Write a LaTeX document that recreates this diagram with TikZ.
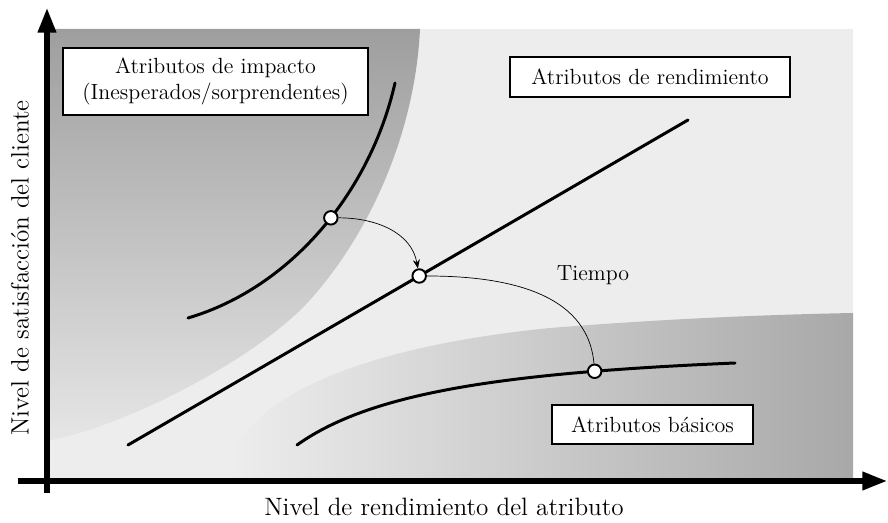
\documentclass[tikz,border=0pt]{standalone}
\usepackage{tikz}
\usepackage{amsmath,amssymb}
\usetikzlibrary{arrows.meta}
\usetikzlibrary{positioning}
\usetikzlibrary{calc}

\tikzset{
  attrbox/.style={draw,fill=white,line width=1pt,inner sep=0pt,align=center,font=\fontsize{12.5}{15}\selectfont},
  punto/.style={circle,draw,fill=white,line width=1.1pt,minimum size=0.27cm,inner sep=0pt},
  curva/.style={line width=1.7pt,line cap=round},
  eje/.style={line width=2.9pt,-{Triangle[length=14pt,width=10pt]}},
  ejelabel/.style={draw=none,font=\fontsize{14.3}{17}\selectfont}
}

\begin{document}
\begin{tikzpicture}[x=0.02cm,y=0.02cm]
    \useasboundingbox (0,0) rectangle (888,523);
    % zonas de fondo
    \fill[black!7] (50,45) rectangle (853,494);
    \shade[top color=black!38,bottom color=black!10]
      (50,494) -- (420,494)
      .. controls (415,390) and (370,290) .. (310,223)
      .. controls (255,162) and (120,95) .. (50,83)
      -- cycle;
    \shade[left color=black!7,right color=black!34]
      (228,45) .. controls (232,120) and (350,175) .. (550,195)
      .. controls (650,203) and (750,208) .. (853,210)
      -- (853,45) -- cycle;
    % ejes
    \coordinate (ytop) at (47,515);
    \coordinate (ybot) at (47,30);
    \coordinate (xleft) at (18,42);
    \coordinate (xright) at (887,42);
    \draw[eje] (ybot)--(ytop);
    \draw[eje] (xleft)--(xright);
    \node[ejelabel,rotate=90] (ylab) at (20,255) {Nivel de satisfacci\'on del cliente};
    \node[ejelabel] (xlab) at (444,16) {Nivel de rendimiento del atributo};
    % curvas con sus puntos
    \draw[curva] (188,205) .. controls (290,235) and (370,330) .. (395,440)
      node[punto,pos=0.55] (c1) {};
    \draw[curva] (128,78)--(688,403) node[punto,pos=0.52] (c2) {};
    \draw[curva] (297,78) .. controls (370,130) and (500,150) .. (735,160)
      node[punto,pos=0.78] (c3) {};
    % transiciones
    \draw[thin,black,-{Stealth[length=5pt,width=4pt]}] (c1) to[out=0,in=100] (c2);
    \draw[thin,black] (c2) to[out=0,in=95] (c3);
    \node[draw=none,font=\fontsize{12.5}{15}\selectfont] (tiempo) at (593,248) {Tiempo};
    % etiquetas
    \node[attrbox,minimum width=6.1cm,minimum height=1.34cm] (impacto) at (215.5,441.5) {Atributos de impacto\\(Inesperados/sorprendentes)};
    \node[attrbox,minimum width=5.6cm,minimum height=0.8cm] (rend) at (650,446) {Atributos de rendimiento};
    \node[attrbox,minimum width=4.02cm,minimum height=0.78cm] (basicos) at (652.5,98.5) {Atributos b\'asicos};
\end{tikzpicture}
\end{document}
